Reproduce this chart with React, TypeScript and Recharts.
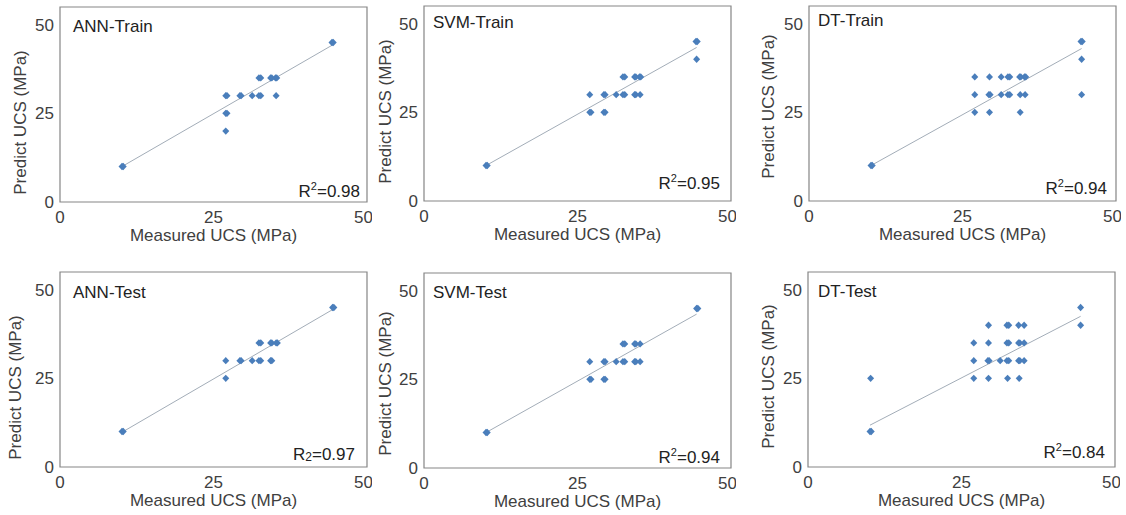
import React from "react";
import { ScatterChart, Scatter, XAxis, YAxis, ReferenceLine, ReferenceArea } from "recharts";

type Pair = [number, number];

const xTicks = [0, 25, 50];
const yTicks = [0, 25, 50];

// [measured, predicted] UCS in MPa
const annTrain: Pair[] = [
  [10.1, 10], [10.3, 10],
  [27.0, 30], [27.2, 30], [27.0, 25], [27.2, 25], [27.0, 20],
  [29.3, 30], [29.5, 30], [31.3, 30],
  [32.4, 30], [32.7, 30], [32.4, 35], [32.7, 35],
  [34.3, 35], [34.5, 35], [35.1, 35], [35.3, 35], [35.2, 30],
  [44.3, 45], [44.5, 45],
];
const svmTrain: Pair[] = [
  [10.1, 10], [10.3, 10],
  [27.0, 30], [27.0, 25], [27.2, 25],
  [29.3, 30], [29.5, 30], [29.3, 25], [29.5, 25], [31.3, 30],
  [32.4, 30], [32.7, 30], [32.4, 35], [32.7, 35],
  [34.3, 35], [34.5, 35], [35.1, 35], [35.3, 35],
  [34.3, 30], [34.5, 30], [35.2, 30],
  [44.3, 45], [44.5, 45], [44.4, 40],
];
const dtTrain: Pair[] = [
  [10.1, 10], [10.3, 10],
  [27.0, 35], [27.0, 30], [27.0, 25],
  [29.4, 35], [29.3, 30], [29.5, 30], [29.4, 25],
  [31.3, 35], [31.3, 30],
  [32.4, 35], [32.7, 35], [32.4, 30], [32.7, 30],
  [34.3, 35], [34.5, 35], [34.4, 30], [34.4, 25],
  [35.1, 35], [35.3, 35], [35.2, 30],
  [44.3, 45], [44.5, 45], [44.4, 40], [44.4, 30],
];
const annTest: Pair[] = [
  [10.1, 10], [10.3, 10],
  [27.0, 30], [27.0, 25],
  [29.3, 30], [29.5, 30], [31.3, 30],
  [32.4, 30], [32.7, 30], [32.4, 35], [32.7, 35],
  [34.3, 30], [34.5, 30], [34.3, 35], [34.5, 35],
  [35.2, 35], [35.4, 35],
  [44.4, 45], [44.6, 45],
];
const svmTest: Pair[] = [
  [10.1, 10], [10.3, 10],
  [27.0, 30], [27.0, 25], [27.2, 25],
  [29.3, 30], [29.5, 30], [29.3, 25], [29.5, 25], [31.3, 30],
  [32.4, 30], [32.7, 30], [32.4, 35], [32.7, 35],
  [34.3, 35], [34.5, 35], [35.2, 35],
  [34.3, 30], [34.5, 30], [35.2, 30],
  [44.4, 45], [44.6, 45],
];
const dtTest: Pair[] = [
  [10.1, 10], [10.3, 10], [10.2, 25],
  [27.0, 35], [27.0, 30], [27.0, 25],
  [29.4, 40], [29.4, 35], [29.3, 30], [29.5, 30], [29.4, 25],
  [31.3, 30],
  [32.4, 40], [32.7, 40], [32.4, 35], [32.7, 35], [32.4, 30], [32.7, 30], [32.5, 25],
  [34.3, 40], [34.3, 35], [34.5, 35], [34.3, 30], [34.5, 30], [34.4, 25],
  [35.2, 40], [35.2, 35], [35.2, 30],
  [44.4, 45], [44.4, 40],
];

// linear trendline end points
const annTrainFit: Pair[] = [[10.1, 10.0], [44.4, 44.3]];
const svmTrainFit: Pair[] = [[10.1, 10.0], [44.4, 43.3]];
const dtTrainFit: Pair[] = [[10.1, 10.0], [44.4, 43.0]];
const annTestFit: Pair[] = [[10.1, 9.8], [44.4, 44.4]];
const svmTestFit: Pair[] = [[10.1, 10.0], [44.4, 43.4]];
const dtTestFit: Pair[] = [[10.1, 11.8], [44.4, 42.5]];

const MARK = "#4a7ebb";
const FIT = "#a3adb8";
const TEXT = "#404040";
const BORDER = "#858585";

const AXIS_W = 60;
const TOP = 7;
const PLOT_W = 307;
const PLOT_H = 195;
const AXIS_H = 50;
const RIGHT = 5;
const CHART_W = AXIS_W + PLOT_W + RIGHT;
const CHART_H = TOP + PLOT_H + AXIS_H;

const Diamond = (p: any) => {
  const { cx, cy } = p;
  return (
    <polygon
      points={`${cx},${cy - 3.7} ${cx + 3.5},${cy} ${cx},${cy + 3.7} ${cx - 3.5},${cy}`}
      fill={MARK}
    />
  );
};

type PanelProps = {
  left: number;
  top: number;
  title: string;
  r2: string;
  sub?: boolean;
  points: Pair[];
  fit: Pair[];
  yDx: number;
  yDy: number;
  titleX: number;
  titleY: number;
  r2X: number;
  r2Y: number;
};

function Panel({ left, top, title, r2, sub, points, fit, yDx, yDy, titleX, titleY, r2X, r2Y }: PanelProps) {
  const data = points.map(([m, p]) => ({ x: m, y: p }));
  return (
    <div style={{ position: "absolute", left: left - AXIS_W, top: top - TOP, width: CHART_W, height: CHART_H }}>
      <ScatterChart width={CHART_W} height={CHART_H} margin={{ top: TOP, right: RIGHT, bottom: 0, left: 0 }}>
        <XAxis
          type="number"
          dataKey="x"
          domain={[0, 50]}
          ticks={xTicks}
          allowDataOverflow
          tickLine={false}
          axisLine={false}
          tickSize={0}
          tickMargin={9}
          height={AXIS_H}
          tick={{ fill: TEXT, fontSize: 17 }}
          label={{ value: "Measured UCS (MPa)", position: "insideBottom", offset: 11, fill: TEXT, fontSize: 17 }}
        />
        <YAxis
          type="number"
          dataKey="y"
          domain={[0, 55]}
          ticks={yTicks}
          allowDataOverflow
          tickLine={false}
          axisLine={false}
          tickSize={0}
          tickMargin={6}
          width={AXIS_W}
          tick={{ fill: TEXT, fontSize: 17 }}
          label={{ value: "Predict UCS (MPa)", angle: -90, position: "center", dx: yDx, dy: yDy, fill: TEXT, fontSize: 17 }}
        />
        <ReferenceArea x1={0} x2={50} y1={0} y2={55} fill="none" stroke={BORDER} strokeWidth={1.2} ifOverflow="visible" />
        <ReferenceLine
          segment={fit.map(([x, y]) => ({ x, y }))}
          stroke={FIT}
          strokeWidth={1}
        />
        <Scatter data={data} shape={Diamond} isAnimationActive={false} />
      </ScatterChart>
      <div
        style={{
          position: "absolute",
          left: AXIS_W + titleX,
          top: TOP + titleY - 10,
          fontSize: 17,
          lineHeight: "20px",
          color: "#222",
          whiteSpace: "nowrap",
        }}
      >
        {title}
      </div>
      <div
        style={{
          position: "absolute",
          right: RIGHT + r2X,
          top: TOP + PLOT_H - r2Y - 10,
          fontSize: 17,
          lineHeight: "20px",
          color: "#222",
          whiteSpace: "nowrap",
        }}
      >
        R
        {sub ? (
          <span style={{ fontSize: 12, position: "relative", top: 1 }}>2</span>
        ) : (
          <span style={{ fontSize: 11, position: "relative", top: -7 }}>2</span>
        )}
        ={r2}
      </div>
    </div>
  );
}

export default function App() {
  return (
    <div
      style={{
        position: "absolute",
        left: 0,
        top: 0,
        width: 1126,
        height: 515,
        background: "#fff",
        overflow: "hidden",
        fontFamily: "'Liberation Sans', Arial, sans-serif",
      }}
    >
      <Panel left={60} top={7} title="ANN-Train" r2="0.98" points={annTrain} fit={annTrainFit}
        yDx={-10} yDy={18} titleX={13} titleY={20} r2X={7} r2Y={10} />
      <Panel left={424} top={6} title="SVM-Train" r2="0.95" points={svmTrain} fit={svmTrainFit}
        yDx={-9} yDy={8} titleX={9} titleY={17} r2X={11} r2Y={17} />
      <Panel left={809} top={6} title="DT-Train" r2="0.94" points={dtTrain} fit={dtTrainFit}
        yDx={-11} yDy={3} titleX={9} titleY={15} r2X={9} r2Y={12} />
      <Panel left={60} top={272} title="ANN-Test" r2="0.97" sub points={annTest} fit={annTestFit}
        yDx={-15} yDy={18} titleX={13} titleY={21} r2X={12} r2Y={12} />
      <Panel left={424} top={273} title="SVM-Test" r2="0.94" points={svmTest} fit={svmTestFit}
        yDx={-9} yDy={13} titleX={9} titleY={20} r2X={11} r2Y={10} />
      <Panel left={808} top={272} title="DT-Test" r2="0.84" points={dtTest} fit={dtTestFit}
        yDx={-10} yDy={7} titleX={10} titleY={20} r2X={10} r2Y={14} />
    </div>
  );
}
